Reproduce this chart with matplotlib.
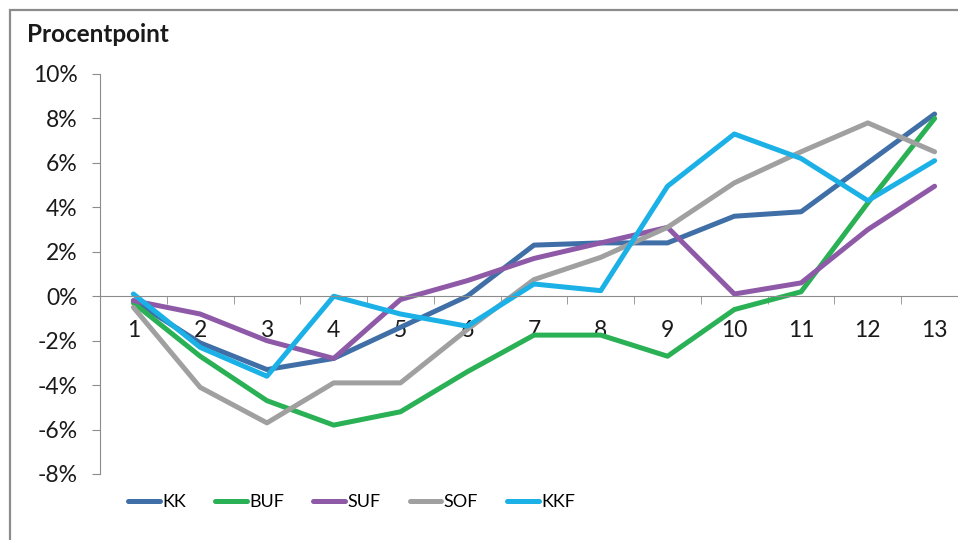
import matplotlib.pyplot as plt
from matplotlib.patches import Rectangle
from matplotlib.ticker import FuncFormatter, FixedLocator

# data (procentpoint)
periods = list(range(1, 14))
kk  = [-0.2, -2.1, -3.3, -2.8, -1.4, 0.0, 2.3, 2.4, 2.4, 3.6, 3.8, 6.0, 8.2]
buf = [-0.3, -2.7, -4.7, -5.8, -5.2, -3.4, -1.75, -1.75, -2.7, -0.6, 0.2, 4.2, 8.0]
suf = [-0.2, -0.8, -2.0, -2.8, -0.15, 0.7, 1.7, 2.4, 3.1, 0.1, 0.6, 3.0, 4.95]
sof = [-0.5, -4.1, -5.7, -3.9, -3.9, -1.5, 0.75, 1.75, 3.1, 5.1, 6.5, 7.8, 6.5]
kkf = [0.1, -2.3, -3.6, 0.0, -0.8, -1.35, 0.55, 0.25, 4.95, 7.3, 6.2, 4.3, 6.1]

series = [("KK", kk, "#3F6FA6"), ("BUF", buf, "#2AB055"), ("SUF", suf, "#8E5AA8"),
          ("SOF", sof, "#A0A0A0"), ("KKF", kkf, "#1BB1E6")]

plt.rcParams['font.family'] = ['Lato', 'DejaVu Sans']

fig = plt.figure(figsize=(9.58, 5.4), dpi=100)
ax = fig.add_axes([100/958, 66/540, 868/958, 400/540])

for name, vals, col in series:
    ax.plot(periods, vals, color=col, lw=3.6, label=name, solid_capstyle='round')

ax.set_xlim(0.5, 13.5)
ax.set_ylim(-8, 10)
ax.set_yticks(range(-8, 11, 2))
ax.yaxis.set_major_formatter(FuncFormatter(lambda v, p: f"{v:.0f}%"))
ax.set_xticks(periods)
ax.xaxis.set_minor_locator(FixedLocator([p + 0.5 for p in range(1, 13)]))

for s in ["top", "right"]:
    ax.spines[s].set_visible(False)
ax.spines["bottom"].set_position(("data", 0))
ax.spines["bottom"].set_color("#8C8C8C")
ax.spines["left"].set_color("#8C8C8C")
ax.tick_params(axis="y", length=6, color="#8C8C8C", labelsize=16.5, pad=10, labelcolor="#1A1A1A")
ax.tick_params(axis="x", which="major", length=0, labelsize=16.5, pad=17, labelcolor="#1A1A1A")
ax.tick_params(axis="x", which="minor", length=6, color="#8C8C8C")

fig.text(27/958, 1 - 35/540, "Procentpoint", fontsize=17.5, fontweight="bold",
         va="center", ha="left", color="#1A1A1A")

leg = fig.legend(loc="center left", bbox_to_anchor=(112/958, 1 - 502/540), ncol=5,
                 frameon=False, handlelength=1.75, handletextpad=0.15,
                 columnspacing=1.6, fontsize=13)

# outer chart frame (partly cut off like the reference)
fig.patches.append(Rectangle((10/958, -0.1), 1.2, 1.1 - 10/540,
                             transform=fig.transFigure, fill=False,
                             edgecolor="#8C8C8C", lw=1.6))

fig.savefig("out.png", dpi=100)
